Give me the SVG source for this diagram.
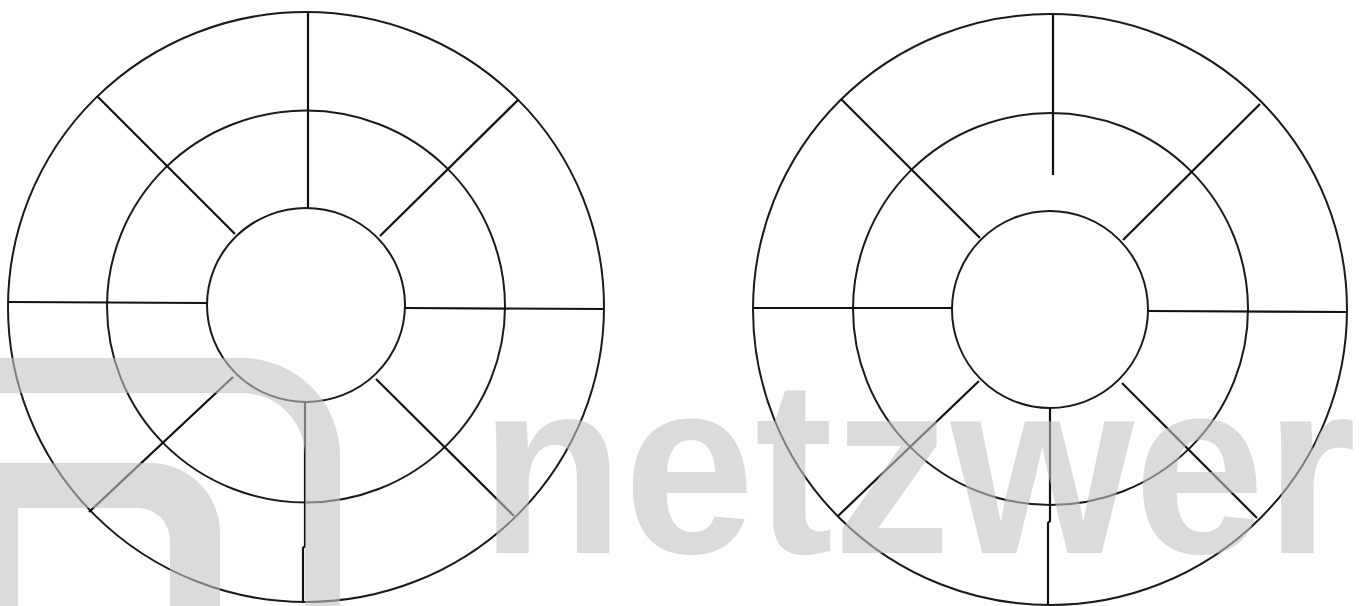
<svg xmlns="http://www.w3.org/2000/svg" width="1359" height="606" viewBox="0 0 1359 606">
<style>
.ring{fill:none;stroke:#1a1a1a;stroke-width:2}
.spoke{fill:none;stroke:#111;stroke-width:2.2}
.wm{fill:#c3c3c3;fill-opacity:0.6}
</style>
<rect x="0" y="0" width="1359" height="606" fill="#ffffff"/>
<g id="diagram-left">
<ellipse class="ring" cx="306" cy="307" rx="298" ry="295"/>
<ellipse class="ring" cx="306" cy="306.5" rx="199" ry="196"/>
<ellipse class="ring" cx="306" cy="305" rx="99" ry="97"/>
</g>
<g id="spokes-left">
<line class="spoke" x1="308" y1="12" x2="308" y2="208"/>
<polyline class="spoke" points="305,402 305,546 303,548 303,602"/>
<line class="spoke" x1="9" y1="302" x2="207" y2="303"/>
<line class="spoke" x1="405" y1="308" x2="604" y2="309"/>
<line class="spoke" x1="97" y1="96" x2="235" y2="234"/>
<line class="spoke" x1="518" y1="100" x2="380" y2="236"/>
<line class="spoke" x1="89" y1="512" x2="233" y2="377"/>
<line class="spoke" x1="514" y1="516" x2="376" y2="379"/>
</g>
<g id="diagram-right">
<ellipse class="ring" cx="1050" cy="309.5" rx="297" ry="295.5"/>
<ellipse class="ring" cx="1050.5" cy="309" rx="197.5" ry="196"/>
<ellipse class="ring" cx="1050" cy="309.5" rx="98" ry="98.5"/>
</g>
<g id="spokes-right">
<line class="spoke" x1="1053" y1="14" x2="1053" y2="175"/>
<polyline class="spoke" points="1050,408 1050,521 1048,523 1048,605"/>
<line class="spoke" x1="753" y1="308" x2="952" y2="308"/>
<line class="spoke" x1="1148" y1="311" x2="1347" y2="312"/>
<line class="spoke" x1="841" y1="99" x2="980" y2="238"/>
<line class="spoke" x1="1260" y1="104" x2="1123" y2="240"/>
<line class="spoke" x1="838" y1="516" x2="979" y2="381"/>
<line class="spoke" x1="1257" y1="518" x2="1122" y2="383"/>
</g>
<g id="watermark">
<path class="wm" d="M0,358 H242 A98,98 0 0 1 340,456 V606 H305 V456 A63,63 0 0 0 242,393 H0 Z"/>
<path class="wm" d="M0,463 H150 A70,70 0 0 1 220,533 V606 H170 V540 A32,32 0 0 0 138,508 H18 V606 H0 Z"/>
<text class="wm" transform="scale(0.949,1)" x="505.8" y="553" font-family="Liberation Sans, Arial, sans-serif" font-weight="bold" font-size="248">netzwer</text>
</g>
</svg>
